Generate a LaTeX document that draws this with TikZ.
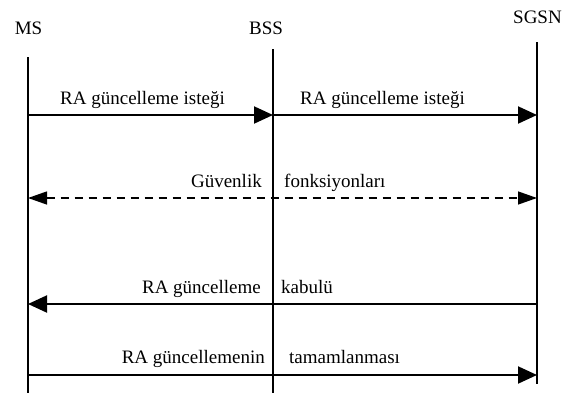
\documentclass[tikz,border=0pt]{standalone}
\usepackage{fontspec}
\setmainfont{Liberation Serif}
\usetikzlibrary{arrows.meta}

\tikzset{
  lifeline/.style={line width=2pt},
  msg/.style={line width=2pt, -{Triangle[length=19pt,width=17pt]}},
  dashmsg/.style={line width=1.3pt, dash pattern=on 8pt off 6pt,
    {Triangle[length=19pt,width=13pt]}-{Triangle[length=19pt,width=13pt]}},
  head/.style={inner sep=0pt, anchor=base, font=\fontsize{19}{22}\selectfont},
  lbl/.style={inner sep=0pt, font=\fontsize{19}{22}\selectfont},
}

\begin{document}
\begin{tikzpicture}[x=1pt, y=-1pt]
  \useasboundingbox (0,0) rectangle (568,394);

  % entity names
  \node[head] (ms)   at (28.5,34) {MS};
  \node[head] (bss)  at (266,34)  {BSS};
  \node[head] (sgsn) at (537.5,23) {SGSN};

  % lifeline ends
  \coordinate (msTop)   at (28,57);
  \coordinate (msBot)   at (28,393);
  \coordinate (bssTop)  at (273,49);
  \coordinate (bssBot)  at (273,393);
  \coordinate (sgsnTop) at (537,42);
  \coordinate (sgsnBot) at (537,384);

  \draw[lifeline] (msTop) -- (msBot);
  \draw[lifeline] (bssTop) -- (bssBot);
  \draw[lifeline] (sgsnTop) -- (sgsnBot);

  % message points on the lifelines
  \coordinate (ms1) at (28,115);   \coordinate (bss1) at (273,115); \coordinate (sgsn1) at (537,115);
  \coordinate (ms2) at (28,198);   \coordinate (sgsn2) at (537,198);
  \coordinate (ms3) at (28,304);   \coordinate (sgsn3) at (537,304);
  \coordinate (ms4) at (28,375);   \coordinate (sgsn4) at (537,375);

  % messages
  \draw[msg] (ms1) -- (bss1);
  \draw[msg] (bss1) -- (sgsn1);
  \draw[dashmsg] (ms2) -- (sgsn2);
  \draw[msg] (sgsn3) -- (ms3);
  \draw[msg] (ms4) -- (sgsn4);

  % message labels
  \node[lbl, anchor=base west] (l1)  at (60,104)  {RA güncelleme isteği};
  \node[lbl, anchor=base west] (l2)  at (300,104) {RA güncelleme isteği};
  \node[lbl, anchor=base east] (l3a) at (262,187) {Güvenlik};
  \node[lbl, anchor=base west] (l3b) at (284,187) {fonksiyonları};
  \node[lbl, anchor=base east] (l4a) at (261,293) {RA güncelleme};
  \node[lbl, anchor=base west] (l4b) at (281,293) {kabulü};
  \node[lbl, anchor=base east] (l5a) at (265,363) {RA güncellemenin};
  \node[lbl, anchor=base west] (l5b) at (289,363) {tamamlanması};
\end{tikzpicture}
\end{document}
